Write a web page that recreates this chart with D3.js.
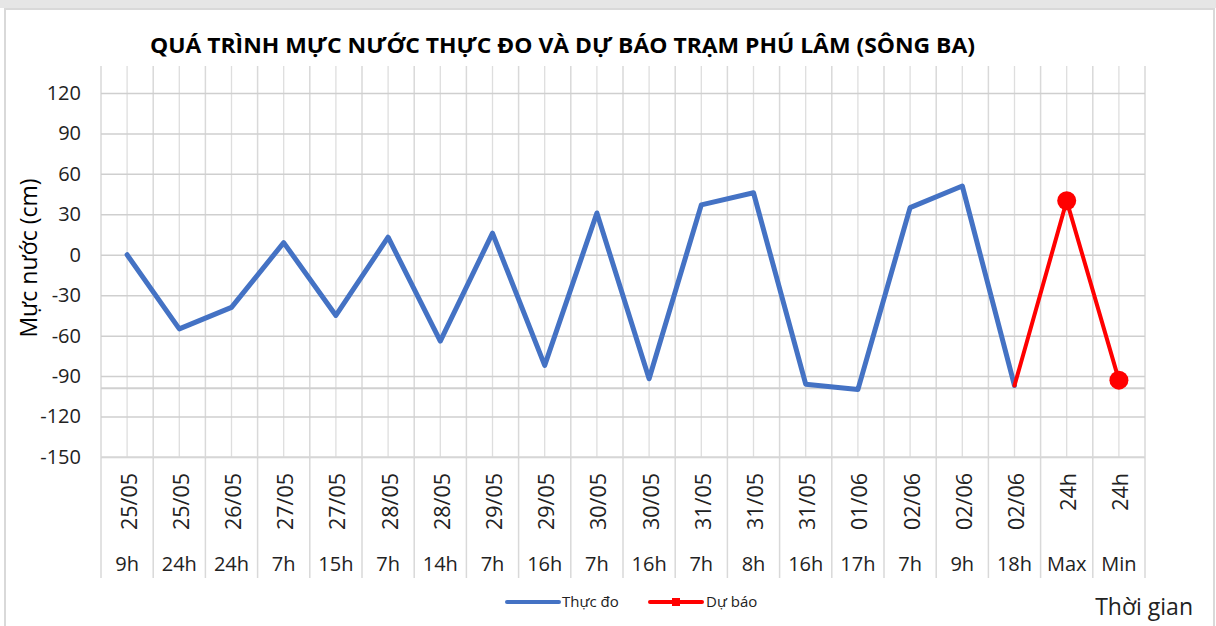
<!DOCTYPE html>
<html>
<head>
<meta charset="utf-8">
<script src="https://cdn.jsdelivr.net/npm/d3@7"></script>
<style>
  html, body { margin: 0; padding: 0; background: #fff; }
  svg { display: block; font-family: "Open Sans", "Noto Sans", sans-serif; }
</style>
</head>
<body>
<svg id="chart" width="1216" height="626"></svg>
<script>
// ---- data ----
const dates = ["25/05","25/05","26/05","27/05","27/05","28/05","28/05","29/05","29/05","30/05",
               "30/05","31/05","31/05","31/05","01/06","02/06","02/06","02/06","24h","24h"];
const hours = ["9h","24h","24h","7h","15h","7h","14h","7h","16h","7h",
               "16h","7h","8h","16h","17h","7h","9h","18h","Max","Min"];
const observed = [0,-55,-39,9,-45,13,-64,16,-82,31,-92,37,46,-96,-100,35,51,-97,null,null];
const forecast = [null,null,null,null,null,null,null,null,null,null,
                  null,null,null,null,null,null,null,-97,40,-93];
const forecastMarkers = [false,false,false,false,false,false,false,false,false,false,
                         false,false,false,false,false,false,false,false,true,true];
const yTicks = [-150,-120,-90,-60,-30,0,30,60,90,120];
const yDomain = [-150, 140];
const axisCross = -99;
const title = "QUÁ TRÌNH MỰC NƯỚC THỰC ĐO VÀ DỰ BÁO TRẠM PHÚ LÂM (SÔNG BA)";
const yTitle = "Mực nước (cm)";
const xTitle = "Thời gian";
const seriesNames = ["Thực đo", "Dự báo"];

// ---- layout ----
const svg = d3.select("#chart");
const W = 1216, H = 626;
const plot = {left: 101, right: 1145, top: 66, bottom: 457};
const tableBottom = 578;

// frame
svg.append("rect").attr("x",0).attr("y",0).attr("width",W).attr("height",8).attr("fill","#e6e6e6");
svg.append("rect").attr("x",5).attr("y",9).attr("width",1209).attr("height",630)
   .attr("fill","#fff").attr("stroke","#d9d9d9").attr("stroke-width",2);

const idx = d3.range(dates.length);
const x = d3.scaleBand().domain(idx).range([plot.left, plot.right]).padding(0);
const y = d3.scaleLinear().domain(yDomain).range([plot.bottom, plot.top]);
const cx = i => x(i) + x.bandwidth()/2;

// vertical gridlines (boundaries + centers)
const g = svg.append("g");
idx.forEach(i => {
  g.append("line").attr("x1", cx(i)).attr("x2", cx(i)).attr("y1", plot.top).attr("y2", plot.bottom)
   .attr("stroke","#dedede").attr("stroke-width",1.3);
});
idx.concat([dates.length]).forEach(i => {
  const xx = i < dates.length ? x(i) : plot.right;
  g.append("line").attr("x1", xx).attr("x2", xx).attr("y1", plot.top).attr("y2", tableBottom)
   .attr("stroke","#d9d9d9").attr("stroke-width",1.5);
});

// horizontal gridlines via axis
const yGrid = d3.axisLeft(y).tickValues(yTicks).tickSize(-(plot.right-plot.left)).tickFormat("");
const gg = svg.append("g").attr("transform",`translate(${plot.left},0)`).call(yGrid);
gg.select(".domain").remove();
gg.selectAll("line").attr("stroke","#cfcfcf").attr("stroke-width",1.5);

// bottom line of plot
svg.append("line").attr("x1",plot.left).attr("x2",plot.right).attr("y1",plot.bottom).attr("y2",plot.bottom)
   .attr("stroke","#d9d9d9").attr("stroke-width",1.5);
// horizontal axis crossing line
svg.append("line").attr("x1",plot.left).attr("x2",plot.right).attr("y1",y(axisCross)).attr("y2",y(axisCross))
   .attr("stroke","#d0d0d0").attr("stroke-width",2);

// y tick labels
const yAx = d3.axisLeft(y).tickValues(yTicks).tickSize(0).tickPadding(0).tickFormat(d => String(d));
const ya = svg.append("g").attr("transform",`translate(81,0)`).call(yAx);
ya.select(".domain").remove();
ya.selectAll("text").attr("font-size",20).attr("fill","#222").attr("font-family","'Open Sans', sans-serif");

// category labels
const cat = svg.append("g");
idx.forEach(i => {
  cat.append("text").attr("transform",`translate(${cx(i)+1},473) rotate(-90)`)
     .attr("text-anchor","end").attr("dominant-baseline","central")
     .attr("font-size",21.5).attr("fill","#222").text(dates[i]);
  cat.append("text").attr("x",cx(i)).attr("y",571).attr("text-anchor","middle")
     .attr("font-size",20).attr("fill","#222").text(hours[i]);
});

// lines
const lineGen = d3.line().defined(d => d.v !== null).x(d => cx(d.i)).y(d => y(d.v));
svg.append("path").datum(observed.map((v,i)=>({i,v})))
   .attr("d", lineGen).attr("fill","none").attr("stroke","#4472C4")
   .attr("stroke-width",5).attr("stroke-linejoin","round").attr("stroke-linecap","round");
svg.append("path").datum(forecast.map((v,i)=>({i,v})))
   .attr("d", lineGen).attr("fill","none").attr("stroke","#FF0000")
   .attr("stroke-width",4).attr("stroke-linejoin","round").attr("stroke-linecap","round");
svg.selectAll("circle.fm").data(forecast.map((v,i)=>({i,v})).filter(d => d.v !== null && forecastMarkers[d.i]))
   .enter().append("circle").attr("class","fm")
   .attr("cx", d => cx(d.i)).attr("cy", d => y(d.v)).attr("r", 9.5).attr("fill","#FF0000");

// title
svg.append("text").attr("x",150).attr("y",53).attr("font-size",21).attr("font-weight","bold")
   .attr("fill","#000").attr("textLength",825).attr("lengthAdjust","spacingAndGlyphs").text(title);

// axis titles
svg.append("text").attr("transform","translate(37,258) rotate(-90)").attr("text-anchor","middle")
   .attr("font-size",23).attr("fill","#000").text(yTitle);
svg.append("text").attr("x",1193).attr("y",615).attr("text-anchor","end")
   .attr("font-size",23).attr("fill","#222").text(xTitle);

// legend
const leg = svg.append("g");
leg.append("line").attr("x1",507).attr("x2",559).attr("y1",602).attr("y2",602)
   .attr("stroke","#4472C4").attr("stroke-width",4).attr("stroke-linecap","round");
leg.append("text").attr("x",562).attr("y",607).attr("font-size",15).attr("fill","#222").text(seriesNames[0]);
leg.append("line").attr("x1",650).attr("x2",702).attr("y1",602).attr("y2",602)
   .attr("stroke","#FF0000").attr("stroke-width",4).attr("stroke-linecap","round");
leg.append("rect").attr("x",672).attr("y",598).attr("width",8).attr("height",8).attr("fill","#FF0000");
leg.append("text").attr("x",706).attr("y",607).attr("font-size",15).attr("fill","#222").text(seriesNames[1]);
</script>
</body>
</html>
